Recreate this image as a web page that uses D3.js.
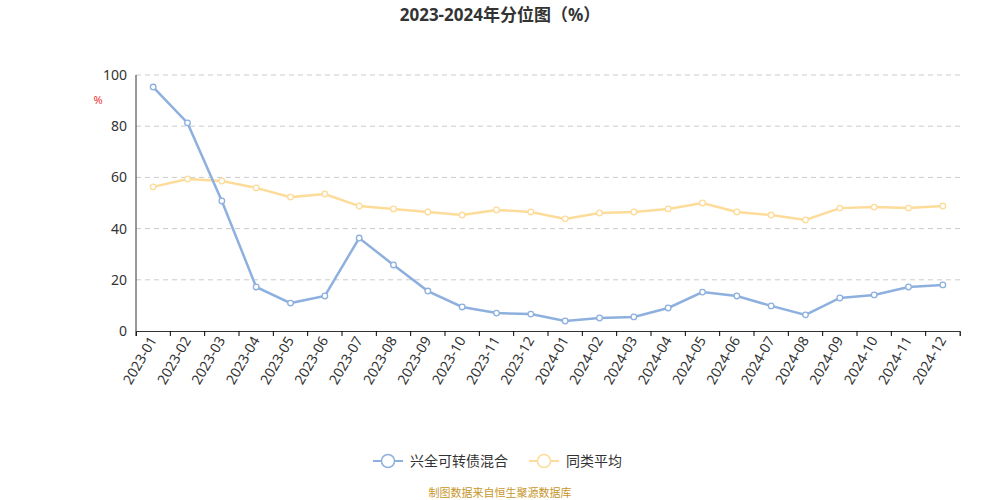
<!DOCTYPE html><html><head><meta charset="utf-8">
<script src="https://cdn.jsdelivr.net/npm/d3@7"></script>
<style>body{margin:0;background:#fff;font-family:"Noto Sans","Noto Sans CJK SC",sans-serif}</style></head><body>
<svg id="c" width="1000" height="500"></svg>
<script>
const months=["2023-01","2023-02","2023-03","2023-04","2023-05","2023-06","2023-07","2023-08","2023-09","2023-10","2023-11","2023-12","2024-01","2024-02","2024-03","2024-04","2024-05","2024-06","2024-07","2024-08","2024-09","2024-10","2024-11","2024-12"];
const fund=[95.3,81.3,50.8,17.2,10.9,13.7,36.3,25.8,15.6,9.4,7.0,6.6,3.9,5.1,5.5,9.0,15.2,13.7,9.8,6.3,12.9,14.1,17.2,18.0];
const avg=[56.3,59.4,58.6,55.9,52.3,53.5,48.8,47.7,46.5,45.3,47.3,46.5,43.8,46.1,46.5,47.7,50.0,46.5,45.3,43.4,48.0,48.4,48.0,48.8];
const yTicks=[0,20,40,60,80,100];
const names=["兴全可转债混合","同类平均"];
const colors=["#8eb0de","#fddc9a"];
const svg=d3.select("#c");
const x=d3.scaleBand().domain(months).range([136,960]);
const y=d3.scaleLinear().domain([0,100]).range([331,75]);
svg.append("text").attr("x",500).attr("y",21).attr("text-anchor","middle").attr("font-size",17).attr("font-weight","bold").attr("fill","#333").text("2023-2024年分位图（%）");
svg.append("text").attr("x",98).attr("y",104).attr("text-anchor","middle").attr("font-size",11).attr("fill","#e33").text("%");
yTicks.forEach(t=>{
 if(t>0)svg.append("line").attr("x1",136).attr("x2",960).attr("y1",y(t)).attr("y2",y(t)).attr("stroke","#ccc").attr("stroke-dasharray","5,4");
 svg.append("text").attr("x",127).attr("y",y(t)+5).attr("text-anchor","end").attr("font-size",14).attr("fill","#333").text(t);
});
svg.append("line").attr("x1",136).attr("x2",136).attr("y1",75).attr("y2",331).attr("stroke","#333");
const xa=svg.append("g").attr("transform","translate(0,331)").call(d3.axisBottom(x).tickSizeOuter(0).tickSize(5).tickFormat(""));
xa.select(".domain").attr("stroke","#333");
xa.selectAll(".tick").attr("transform",d=>`translate(${x(d)},0)`);
xa.append("g").attr("transform",`translate(960,0)`).append("line").attr("y2",5).attr("stroke","#333");
months.forEach(m=>{
 const cx=x(m)+x.bandwidth()/2+4, cy=340;
 svg.append("text").attr("transform",`translate(${cx},${cy}) rotate(-60)`).attr("text-anchor","end").attr("font-size",14).attr("fill","#333").text(m);
});
const line=d3.line().x((d,i)=>x(months[i])+x.bandwidth()/2).y(d=>y(d));
[avg,fund].forEach((s,k)=>{
 const c=k==0?colors[1]:colors[0];
 svg.append("path").attr("d",line(s)).attr("fill","none").attr("stroke",c).attr("stroke-width",2.5);
 svg.selectAll(null).data(s).enter().append("circle").attr("cx",(d,i)=>x(months[i])+x.bandwidth()/2).attr("cy",d=>y(d)).attr("r",2.8).attr("fill","#fff").attr("stroke",c).attr("stroke-width",1.3);
});
const lg=[[373,names[0],colors[0]],[529,names[1],colors[1]]];
lg.forEach(([lx,t,c])=>{
 svg.append("line").attr("x1",lx).attr("x2",lx+30).attr("y1",461).attr("y2",461).attr("stroke",c).attr("stroke-width",2);
 svg.append("circle").attr("cx",lx+15).attr("cy",461).attr("r",6.5).attr("fill","#fff").attr("stroke",c).attr("stroke-width",1.5);
 svg.append("text").attr("x",lx+37).attr("y",466).attr("font-size",14).attr("fill","#333").text(t);
});
svg.append("text").attr("x",500).attr("y",497).attr("text-anchor","middle").attr("font-size",11).attr("fill","#c8962a").text("制图数据来自恒生聚源数据库");
</script></body></html>
